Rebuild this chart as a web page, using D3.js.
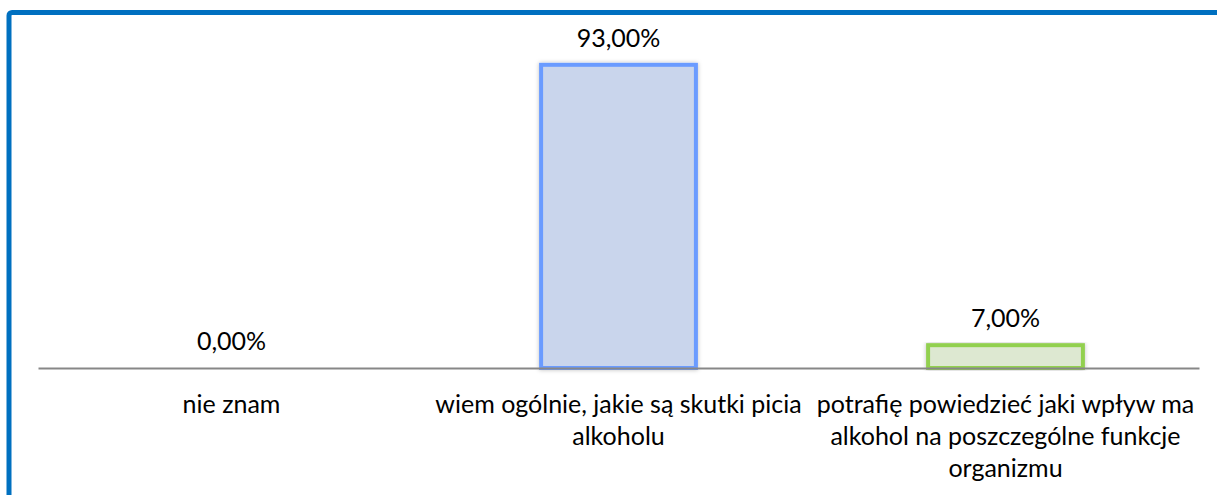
<!DOCTYPE html>
<html>
<head>
<meta charset="utf-8">
<script src="https://cdn.jsdelivr.net/npm/d3@7"></script>
<style>
  html, body { margin: 0; padding: 0; background: #fff; }
  svg { display: block; }
  text { font-family: Lato, "Open Sans", sans-serif; fill: #000; }
</style>
</head>
<body>
<svg id="chart" width="1217" height="495"></svg>
<script>
const categories = [
  "nie znam",
  "wiem ogólnie, jakie są skutki picia alkoholu",
  "potrafię powiedzieć jaki wpływ ma alkohol na poszczególne funkcje organizmu"
];
const tickLabels = [
  ["nie znam"],
  ["wiem ogólnie, jakie są skutki picia", "alkoholu"],
  ["potrafię powiedzieć jaki wpływ ma", "alkohol na poszczególne funkcje", "organizmu"]
];
const values = [0, 93, 7];
const valueLabels = ["0,00%", "93,00%", "7,00%"];
const fills = ["#C9D5EC", "#C9D5EC", "#DDE8D1"];
const strokes = ["#6B9BFF", "#6B9BFF", "#92D050"];

const svg = d3.select("#chart");
const W = 1217, H = 495;
const FS = 25;

// frame
svg.append("rect")
  .attr("x", 9).attr("y", 12.5)
  .attr("width", 1300).attr("height", 700)
  .attr("rx", 3)
  .attr("fill", "none")
  .attr("stroke", "#0070C0")
  .attr("stroke-width", 5);

const defs = svg.append("defs");
const f = defs.append("filter").attr("id", "shadow")
  .attr("x", "-10%").attr("y", "-10%").attr("width", "120%").attr("height", "120%");
f.append("feDropShadow").attr("dx", 0).attr("dy", 0).attr("stdDeviation", 2)
  .attr("flood-color", "#000").attr("flood-opacity", 0.25);

const x = d3.scaleBand()
  .domain(categories)
  .range([38, 1199])
  .paddingInner(0.6)
  .paddingOuter(0.3);

const y = d3.scaleLinear().domain([0, 100]).range([368, 42]);

// bars
svg.append("g").selectAll("rect")
  .data(categories)
  .join("rect")
  .filter((d, i) => values[i] > 0)
  .attr("x", d => x(d))
  .attr("y", d => y(values[categories.indexOf(d)]))
  .attr("width", x.bandwidth())
  .attr("height", d => y(0) - y(values[categories.indexOf(d)]))
  .attr("fill", d => fills[categories.indexOf(d)])
  .attr("stroke", d => strokes[categories.indexOf(d)])
  .attr("stroke-width", 4)
  .attr("filter", "url(#shadow)");

// axis line
const axis = d3.axisBottom(x).tickSize(0).tickFormat("");
const gAxis = svg.append("g").attr("transform", `translate(0,${y(0)})`).call(axis);
gAxis.select(".domain").attr("stroke", "#878787").attr("stroke-width", 2);

// category labels
const catG = svg.append("g");
categories.forEach((c, i) => {
  const t = catG.append("text")
    .attr("x", x(c) + x.bandwidth() / 2)
    .attr("y", 413)
    .attr("text-anchor", "middle")
    .attr("font-size", FS);
  tickLabels[i].forEach((line, j) => {
    t.append("tspan")
      .attr("x", x(c) + x.bandwidth() / 2)
      .attr("dy", j === 0 ? 0 : 32)
      .text(line);
  });
});

// value labels
svg.append("g").selectAll("text")
  .data(categories)
  .join("text")
  .attr("x", d => x(d) + x.bandwidth() / 2)
  .attr("y", (d, i) => y(values[i]) - 18)
  .attr("text-anchor", "middle")
  .attr("font-size", FS)
  .text((d, i) => valueLabels[i]);
</script>
</body>
</html>
